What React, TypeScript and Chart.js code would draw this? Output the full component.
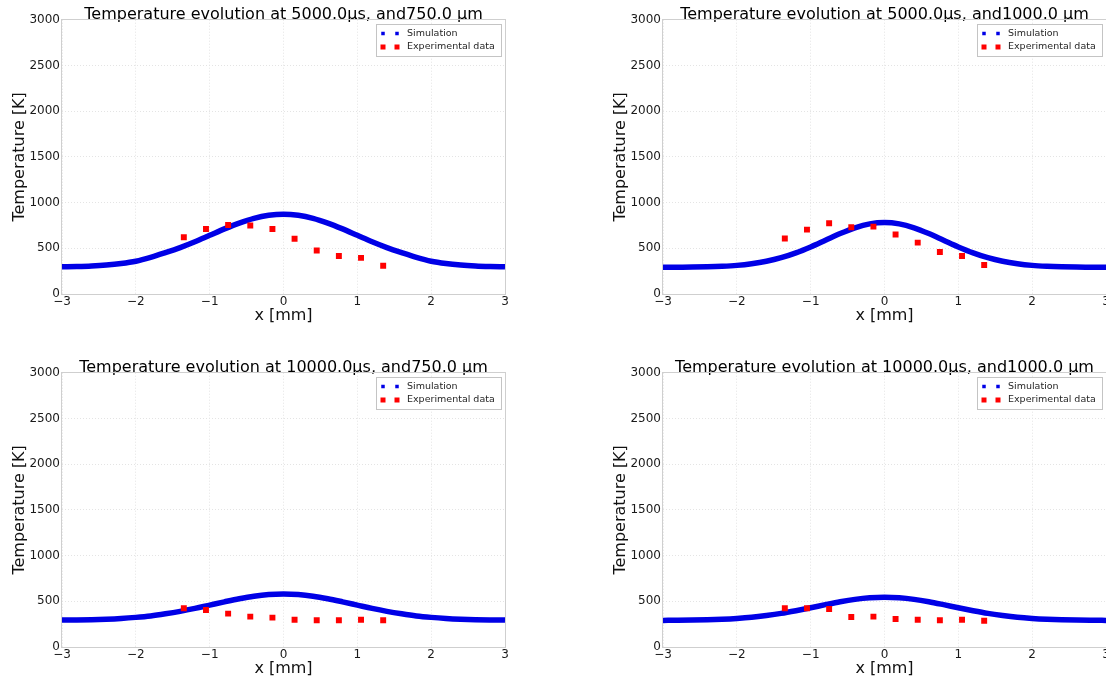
import React, { useEffect, useRef } from 'react';
import { Chart, registerables } from 'chart.js';

Chart.register(...registerables);
Chart.defaults.font.family = "'DejaVu Sans', sans-serif";

// ---------- data ----------
const simX = [-3, -2.8, -2.6, -2.4, -2.2, -2, -1.8, -1.6, -1.4, -1.2, -1, -0.8, -0.6, -0.4, -0.2, 0, 0.2, 0.4, 0.6, 0.8, 1, 1.2, 1.4, 1.6, 1.8, 2, 2.2, 2.4, 2.6, 2.8, 3];
const expX = [-1.35, -1.05, -0.75, -0.45, -0.15, 0.15, 0.45, 0.75, 1.05, 1.35];

const simTL = [297, 301, 307, 317, 333, 358, 400, 452, 508, 572, 642, 712, 776, 828, 861, 873, 861, 828, 776, 712, 642, 572, 508, 452, 400, 358, 333, 317, 307, 301, 297];
const expTL = [620, 710, 755, 750, 710, 605, 475, 415, 395, 310];

const simTR = [292, 293, 294, 297, 303, 313, 331, 358, 397, 450, 515, 588, 661, 724, 767, 782, 767, 724, 661, 588, 515, 450, 397, 358, 331, 313, 303, 297, 294, 293, 292];
const expTR = [606, 704, 774, 730, 737, 650, 562, 460, 416, 318];

const simBL = [294, 296, 299, 304, 312, 324, 340, 363, 390, 422, 458, 494, 528, 556, 574, 580, 574, 556, 528, 494, 458, 422, 390, 363, 340, 324, 312, 304, 299, 296, 294];
const expBL = [423, 405, 365, 332, 321, 299, 292, 292, 299, 292];

const simBR = [291, 292, 294, 298, 304, 313, 326, 345, 368, 397, 429, 463, 495, 521, 538, 544, 538, 521, 495, 463, 429, 397, 368, 345, 326, 313, 304, 298, 294, 292, 291];
const expBR = [423, 423, 416, 328, 332, 307, 299, 292, 299, 288];

const xTicks = [-3, -2, -1, 0, 1, 2, 3];
const yTicks = [0, 500, 1000, 1500, 2000, 2500, 3000];

const titles = [
  'Temperature evolution at 5000.0\u03bcs, and750.0 \u03bcm',
  'Temperature evolution at 5000.0\u03bcs, and1000.0 \u03bcm',
  'Temperature evolution at 10000.0\u03bcs, and750.0 \u03bcm',
  'Temperature evolution at 10000.0\u03bcs, and1000.0 \u03bcm',
];
const simSeries = [simTL, simTR, simBL, simBR];
const expSeries = [expTL, expTR, expBL, expBR];
const seriesLabels = ['Simulation', 'Experimental data'];
const xTitle = 'x [mm]';
const yTitle = 'Temperature [K]';

// ---------- layout (positions of panels) ----------
const panelPos = [
  { left: 0, top: 0 },
  { left: 601, top: 0 },
  { left: 0, top: 353 },
  { left: 601, top: 353 },
];
const CW = 553;
const CH = 340;

const BLUE = '#0000e6';
const RED = '#ff0000';

const fmt = (v: number) => (v < 0 ? '\u2212' + Math.abs(v) : String(v));

const framePlugin = {
  id: 'frame',
  beforeDatasetsDraw(chart: any) {
    const { ctx, chartArea } = chart;
    ctx.save();
    ctx.strokeStyle = '#cfcfcf';
    ctx.lineWidth = 1;
    ctx.strokeRect(
      Math.round(chartArea.left) - 0.5,
      Math.round(chartArea.top) - 0.5,
      Math.round(chartArea.right - chartArea.left) + 1,
      Math.round(chartArea.bottom - chartArea.top) + 1
    );
    ctx.restore();
  },
};

const boxLegendPlugin = {
  id: 'boxLegend',
  afterDatasetsDraw(chart: any) {
    const { ctx, chartArea } = chart;
    const w = 125;
    const h = 32;
    const x = Math.round(chartArea.right) - 4 - w;
    const y = Math.round(chartArea.top) + 4;
    ctx.save();
    ctx.fillStyle = 'rgba(255,255,255,0.92)';
    ctx.fillRect(x, y, w, h);
    ctx.strokeStyle = '#c4c4c4';
    ctx.lineWidth = 1;
    ctx.strokeRect(x + 0.5, y + 0.5, w, h);
    const ds = chart.data.datasets;
    ds.forEach((d: any, i: number) => {
      const cy = y + 9.5 + i * 13.5;
      const s = d.legendMarker;
      ctx.fillStyle = d.legendColor;
      [x + 7, x + 21].forEach((mx) => {
        ctx.fillRect(mx - s / 2, cy - s / 2, s, s);
      });
      ctx.fillStyle = '#262626';
      ctx.font = "9.5px 'DejaVu Sans', sans-serif";
      ctx.textBaseline = 'middle';
      ctx.textAlign = 'left';
      ctx.fillText(d.label, x + 31, cy);
    });
    ctx.restore();
  },
};

function Panel({ idx }: { idx: number }) {
  const ref = useRef<HTMLCanvasElement | null>(null);
  useEffect(() => {
    if (!ref.current) return;
    const sim = simSeries[idx];
    const exp = expSeries[idx];
    const chart = new Chart(ref.current, {
      type: 'scatter',
      data: {
        datasets: [
          {
            label: seriesLabels[0],
            data: simX.map((x, i) => ({ x, y: sim[i] })),
            showLine: true,
            borderColor: BLUE,
            backgroundColor: BLUE,
            borderWidth: 5.5,
            pointRadius: 0,
            cubicInterpolationMode: 'monotone',
            order: 1,
            legendColor: BLUE,
            legendMarker: 3.5,
          } as any,
          {
            label: seriesLabels[1],
            data: expX.map((x, i) => ({ x, y: exp[i] })),
            pointStyle: 'rect',
            pointRadius: 4.2,
            borderWidth: 0,
            backgroundColor: RED,
            borderColor: RED,
            order: 0,
            legendColor: RED,
            legendMarker: 5,
          } as any,
        ],
      },
      options: {
        responsive: false,
        animation: false,
        layout: { padding: { left: 0, right: CW - 505, top: 0, bottom: 0 } },
        scales: {
          x: {
            type: 'linear',
            min: -3,
            max: 3,
            afterBuildTicks: (s: any) => {
              s.ticks = xTicks.map((v) => ({ value: v }));
            },
            afterFit: (s: any) => {
              s.height = CH - 294;
            },
            ticks: {
              callback: (v: any) => fmt(Number(v)),
              font: { size: 12 },
              color: '#1a1a1a',
              padding: 1,
              maxRotation: 0,
              autoSkip: false,
            },
            grid: { color: '#e4e4e4', lineWidth: 1, drawTicks: false },
            border: { display: false, dash: [1, 2] },
            title: {
              display: true,
              text: xTitle,
              font: { size: 16 },
              color: '#111111',
              padding: { top: 0, bottom: 15 },
            },
          },
          y: {
            type: 'linear',
            min: 0,
            max: 3000,
            afterBuildTicks: (s: any) => {
              s.ticks = yTicks.map((v) => ({ value: v }));
            },
            afterFit: (s: any) => {
              s.width = 62;
            },
            ticks: {
              callback: (v: any) => String(v),
              font: { size: 12 },
              color: '#1a1a1a',
              padding: 2,
              autoSkip: false,
            },
            grid: { color: '#e4e4e4', lineWidth: 1, drawTicks: false },
            border: { display: false, dash: [1, 2] },
            title: {
              display: true,
              text: yTitle,
              font: { size: 16 },
              color: '#111111',
              padding: { top: 10, bottom: 0 },
            },
          },
        },
        plugins: {
          legend: { display: false },
          tooltip: { enabled: false },
          title: {
            display: true,
            text: titles[idx],
            font: { size: 16, weight: 'normal' },
            color: '#000000',
            padding: { top: 5.5, bottom: -5 },
            fullSize: false,
          },
        },
      } as any,
      plugins: [framePlugin, boxLegendPlugin],
    });
    return () => chart.destroy();
  }, [idx]);
  const p = panelPos[idx];
  return (
    <canvas
      ref={ref}
      width={CW}
      height={CH}
      style={{ position: 'absolute', left: p.left, top: p.top, width: CW, height: CH, display: 'block' }}
    />
  );
}

export default function App() {
  return (
    <div
      style={{
        position: 'absolute',
        left: 0,
        top: 0,
        width: 1106,
        height: 679,
        overflow: 'hidden',
        background: '#ffffff',
      }}
    >
      {[0, 1, 2, 3].map((i) => (
        <Panel key={i} idx={i} />
      ))}
    </div>
  );
}
